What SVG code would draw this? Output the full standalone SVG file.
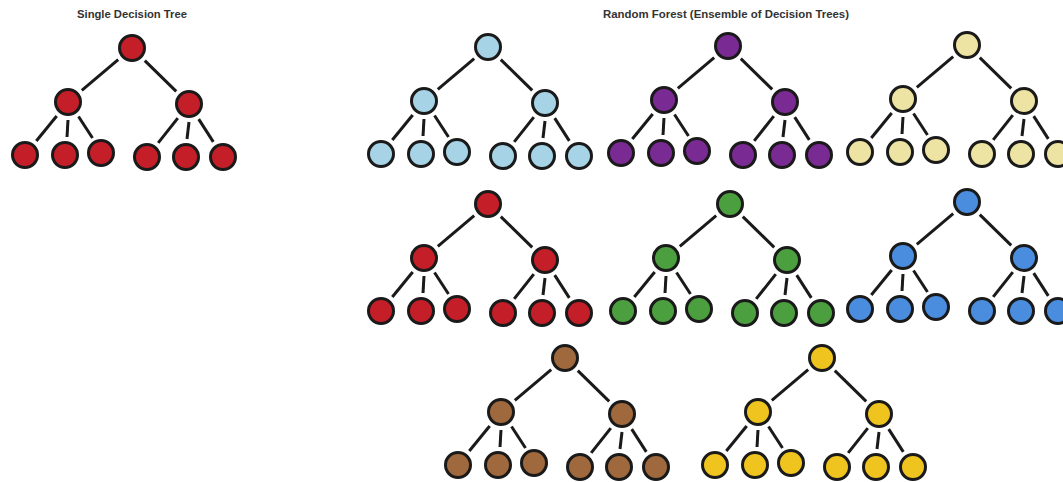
<svg xmlns="http://www.w3.org/2000/svg" xmlns:xlink="http://www.w3.org/1999/xlink" width="1063" height="482" viewBox="0 0 1063 482">
<style>
.bg{fill:#ffffff}
.title{font-family:"Liberation Sans",Arial,sans-serif;font-weight:bold;font-size:10px;fill:#333333}
.edge{stroke:#1a1a1a;stroke-width:3;stroke-linecap:butt;fill:none}
circle{stroke:#1a1a1a;stroke-width:3}
.red circle{fill:#c41e28}
.lblue circle{fill:#a7d3e6}
.purple circle{fill:#7a2a93}
.pale circle{fill:#ede3a2}
.green circle{fill:#4c9f3e}
.blue circle{fill:#4a8ddf}
.brown circle{fill:#9f693d}
.yellow circle{fill:#efc41f}
</style>
<defs>
<g id="edges">
<line x1="-13.8" y1="11.6" x2="-50.2" y2="42.4"/>
<line x1="12.8" y1="12.6" x2="44.2" y2="43.4"/>
<line x1="-75.3" y1="68" x2="-95.7" y2="93"/>
<line x1="-64" y1="72" x2="-65" y2="89"/>
<line x1="-53.5" y1="68.5" x2="-39.5" y2="90"/>
<line x1="45.8" y1="70.1" x2="26.2" y2="94.9"/>
<line x1="57" y1="74" x2="55" y2="91"/>
<line x1="66.7" y1="71.1" x2="81.3" y2="93.9"/>
</g>
</defs>
<rect class="bg" x="0" y="0" width="1063" height="482"/>
<text class="title" x="132" y="18" text-anchor="middle" textLength="110" lengthAdjust="spacingAndGlyphs">Single Decision Tree</text>
<text class="title" x="726" y="18" text-anchor="middle" textLength="246" lengthAdjust="spacingAndGlyphs">Random Forest (Ensemble of Decision Trees)</text>

<g id="connectors" class="edge">
<use xlink:href="#edges" transform="translate(132,48)"/>
<use xlink:href="#edges" transform="translate(488,47)"/>
<use xlink:href="#edges" transform="translate(728,46)"/>
<use xlink:href="#edges" transform="translate(967,45)"/>
<use xlink:href="#edges" transform="translate(488,204)"/>
<use xlink:href="#edges" transform="translate(730,204)"/>
<use xlink:href="#edges" transform="translate(967,202)"/>
<use xlink:href="#edges" transform="translate(565,358)"/>
<use xlink:href="#edges" transform="translate(822,358)"/>
</g>

<g id="tree-single" class="red" transform="translate(132,48)">
<g id="s-root"><circle cx="0" cy="0" r="12.5"/></g>
<g id="s-l"><circle cx="-64" cy="54" r="12.5"/></g>
<g id="s-r"><circle cx="57" cy="56" r="12.5"/></g>
<g id="s-l1"><circle cx="-107" cy="107" r="12.5"/></g>
<g id="s-l2"><circle cx="-67" cy="107" r="12.5"/></g>
<g id="s-l3"><circle cx="-31" cy="105" r="12.5"/></g>
<g id="s-r1"><circle cx="15" cy="109" r="12.5"/></g>
<g id="s-r2"><circle cx="54" cy="109" r="12.5"/></g>
<g id="s-r3"><circle cx="91" cy="109" r="12.5"/></g>
</g>

<g id="tree-lightblue" class="lblue" transform="translate(488,47)">
<g id="lb-root"><circle cx="0" cy="0" r="12.5"/></g>
<g id="lb-l"><circle cx="-64" cy="54" r="12.5"/></g>
<g id="lb-r"><circle cx="57" cy="56" r="12.5"/></g>
<g id="lb-l1"><circle cx="-107" cy="107" r="12.5"/></g>
<g id="lb-l2"><circle cx="-67" cy="107" r="12.5"/></g>
<g id="lb-l3"><circle cx="-31" cy="105" r="12.5"/></g>
<g id="lb-r1"><circle cx="15" cy="109" r="12.5"/></g>
<g id="lb-r2"><circle cx="54" cy="109" r="12.5"/></g>
<g id="lb-r3"><circle cx="91" cy="109" r="12.5"/></g>
</g>

<g id="tree-purple" class="purple" transform="translate(728,46)">
<g id="pu-root"><circle cx="0" cy="0" r="12.5"/></g>
<g id="pu-l"><circle cx="-64" cy="54" r="12.5"/></g>
<g id="pu-r"><circle cx="57" cy="56" r="12.5"/></g>
<g id="pu-l1"><circle cx="-107" cy="107" r="12.5"/></g>
<g id="pu-l2"><circle cx="-67" cy="107" r="12.5"/></g>
<g id="pu-l3"><circle cx="-31" cy="105" r="12.5"/></g>
<g id="pu-r1"><circle cx="15" cy="109" r="12.5"/></g>
<g id="pu-r2"><circle cx="54" cy="109" r="12.5"/></g>
<g id="pu-r3"><circle cx="91" cy="109" r="12.5"/></g>
</g>

<g id="tree-pale" class="pale" transform="translate(967,45)">
<g id="pa-root"><circle cx="0" cy="0" r="12.5"/></g>
<g id="pa-l"><circle cx="-64" cy="54" r="12.5"/></g>
<g id="pa-r"><circle cx="57" cy="56" r="12.5"/></g>
<g id="pa-l1"><circle cx="-107" cy="107" r="12.5"/></g>
<g id="pa-l2"><circle cx="-67" cy="107" r="12.5"/></g>
<g id="pa-l3"><circle cx="-31" cy="105" r="12.5"/></g>
<g id="pa-r1"><circle cx="15" cy="109" r="12.5"/></g>
<g id="pa-r2"><circle cx="54" cy="109" r="12.5"/></g>
<g id="pa-r3"><circle cx="91" cy="109" r="12.5"/></g>
</g>

<g id="tree-red" class="red" transform="translate(488,204)">
<g id="rd-root"><circle cx="0" cy="0" r="12.5"/></g>
<g id="rd-l"><circle cx="-64" cy="54" r="12.5"/></g>
<g id="rd-r"><circle cx="57" cy="56" r="12.5"/></g>
<g id="rd-l1"><circle cx="-107" cy="107" r="12.5"/></g>
<g id="rd-l2"><circle cx="-67" cy="107" r="12.5"/></g>
<g id="rd-l3"><circle cx="-31" cy="105" r="12.5"/></g>
<g id="rd-r1"><circle cx="15" cy="109" r="12.5"/></g>
<g id="rd-r2"><circle cx="54" cy="109" r="12.5"/></g>
<g id="rd-r3"><circle cx="91" cy="109" r="12.5"/></g>
</g>

<g id="tree-green" class="green" transform="translate(730,204)">
<g id="gr-root"><circle cx="0" cy="0" r="12.5"/></g>
<g id="gr-l"><circle cx="-64" cy="54" r="12.5"/></g>
<g id="gr-r"><circle cx="57" cy="56" r="12.5"/></g>
<g id="gr-l1"><circle cx="-107" cy="107" r="12.5"/></g>
<g id="gr-l2"><circle cx="-67" cy="107" r="12.5"/></g>
<g id="gr-l3"><circle cx="-31" cy="105" r="12.5"/></g>
<g id="gr-r1"><circle cx="15" cy="109" r="12.5"/></g>
<g id="gr-r2"><circle cx="54" cy="109" r="12.5"/></g>
<g id="gr-r3"><circle cx="91" cy="109" r="12.5"/></g>
</g>

<g id="tree-blue" class="blue" transform="translate(967,202)">
<g id="bl-root"><circle cx="0" cy="0" r="12.5"/></g>
<g id="bl-l"><circle cx="-64" cy="54" r="12.5"/></g>
<g id="bl-r"><circle cx="57" cy="56" r="12.5"/></g>
<g id="bl-l1"><circle cx="-107" cy="107" r="12.5"/></g>
<g id="bl-l2"><circle cx="-67" cy="107" r="12.5"/></g>
<g id="bl-l3"><circle cx="-31" cy="105" r="12.5"/></g>
<g id="bl-r1"><circle cx="15" cy="109" r="12.5"/></g>
<g id="bl-r2"><circle cx="54" cy="109" r="12.5"/></g>
<g id="bl-r3"><circle cx="91" cy="109" r="12.5"/></g>
</g>

<g id="tree-brown" class="brown" transform="translate(565,358)">
<g id="br-root"><circle cx="0" cy="0" r="12.5"/></g>
<g id="br-l"><circle cx="-64" cy="54" r="12.5"/></g>
<g id="br-r"><circle cx="57" cy="56" r="12.5"/></g>
<g id="br-l1"><circle cx="-107" cy="107" r="12.5"/></g>
<g id="br-l2"><circle cx="-67" cy="107" r="12.5"/></g>
<g id="br-l3"><circle cx="-31" cy="105" r="12.5"/></g>
<g id="br-r1"><circle cx="15" cy="109" r="12.5"/></g>
<g id="br-r2"><circle cx="54" cy="109" r="12.5"/></g>
<g id="br-r3"><circle cx="91" cy="109" r="12.5"/></g>
</g>

<g id="tree-yellow" class="yellow" transform="translate(822,358)">
<g id="ye-root"><circle cx="0" cy="0" r="12.5"/></g>
<g id="ye-l"><circle cx="-64" cy="54" r="12.5"/></g>
<g id="ye-r"><circle cx="57" cy="56" r="12.5"/></g>
<g id="ye-l1"><circle cx="-107" cy="107" r="12.5"/></g>
<g id="ye-l2"><circle cx="-67" cy="107" r="12.5"/></g>
<g id="ye-l3"><circle cx="-31" cy="105" r="12.5"/></g>
<g id="ye-r1"><circle cx="15" cy="109" r="12.5"/></g>
<g id="ye-r2"><circle cx="54" cy="109" r="12.5"/></g>
<g id="ye-r3"><circle cx="91" cy="109" r="12.5"/></g>
</g>
</svg>
